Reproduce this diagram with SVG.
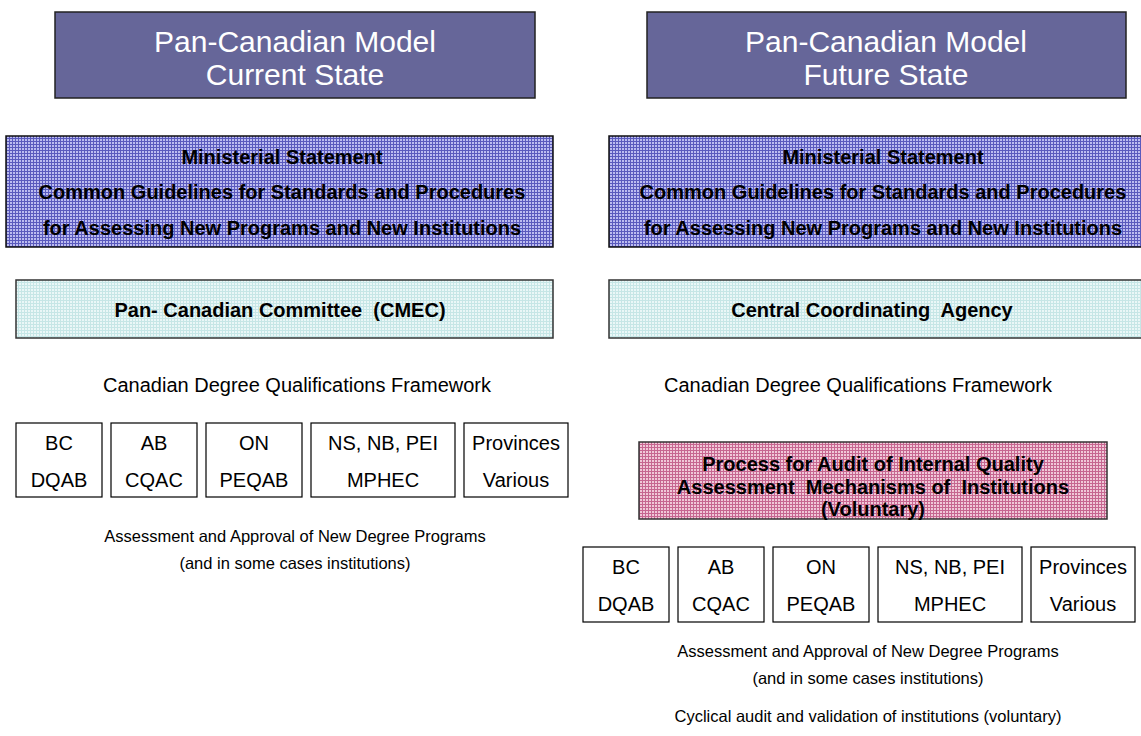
<svg xmlns="http://www.w3.org/2000/svg" width="1141" height="736" viewBox="0 0 1141 736">
<defs>
<pattern id="gridBlue" width="3" height="3" patternUnits="userSpaceOnUse">
<rect width="3" height="3" fill="#bcbcf0"/>
<rect width="3" height="1" fill="#5a5abd"/>
<rect width="1" height="3" fill="#5a5abd"/>
</pattern>
<pattern id="gridCyan" width="3" height="3" patternUnits="userSpaceOnUse">
<rect width="3" height="3" fill="#eaf7f7"/>
<rect width="3" height="1" fill="#c6e6e6"/>
<rect width="1" height="3" fill="#c6e6e6"/>
</pattern>
<pattern id="gridPink" width="3" height="3" patternUnits="userSpaceOnUse">
<rect width="3" height="3" fill="#f0c8d8"/>
<rect width="3" height="1" fill="#c66690"/>
<rect width="1" height="3" fill="#c66690"/>
</pattern>
</defs>
<style>
text{font-family:"Liberation Sans",Arial,sans-serif;text-anchor:middle;white-space:pre}
.title rect{fill:#666699;stroke:#222;stroke-width:1.5}
.title text{fill:#fff;font-size:30px}
.mini rect{fill:url(#gridBlue);stroke:#111;stroke-width:1.5}
.mini text{font-size:20px;font-weight:bold;fill:#000}
.comm rect{fill:url(#gridCyan);stroke:#333;stroke-width:1.5}
.comm text{font-size:20px;font-weight:bold;fill:#000}
.plain{font-size:20px;fill:#000}
.small{font-size:16.5px;fill:#000}
.prov rect{fill:#fff;stroke:#000;stroke-width:1.2}
.prov text{font-size:20px;fill:#000}
.audit rect{fill:url(#gridPink);stroke:#333;stroke-width:1.5}
.audit text{font-size:20px;font-weight:bold;fill:#000}
</style>

<g id="title-current" class="title">
<rect x="55" y="12" width="480" height="86"/>
<text x="295" y="52">Pan-Canadian Model</text>
<text x="295" y="85">Current State</text>
</g>
<g id="title-future" class="title">
<rect x="647" y="12" width="479" height="86"/>
<text x="886" y="52">Pan-Canadian Model</text>
<text x="886" y="85">Future State</text>
</g>

<g id="ministerial-current" class="mini">
<rect x="6" y="136" width="547" height="111"/>
<text x="282" y="164">Ministerial Statement</text>
<text x="282" y="199">Common Guidelines for Standards and Procedures</text>
<text x="282" y="235">for Assessing New Programs and New Institutions</text>
</g>
<g id="ministerial-future" class="mini">
<rect x="609" y="136" width="560" height="111"/>
<text x="883" y="164">Ministerial Statement</text>
<text x="883" y="199">Common Guidelines for Standards and Procedures</text>
<text x="883" y="235">for Assessing New Programs and New Institutions</text>
</g>

<g id="committee-current" class="comm">
<rect x="16" y="280" width="537" height="58"/>
<text x="280" y="317">Pan- Canadian Committee  (CMEC)</text>
</g>
<g id="agency-future" class="comm">
<rect x="609" y="280" width="560" height="58"/>
<text x="872" y="317">Central Coordinating  Agency</text>
</g>

<g id="cdqf-current">
<text class="plain" x="297" y="392">Canadian Degree Qualifications Framework</text>
</g>
<g id="cdqf-future">
<text class="plain" x="858" y="392">Canadian Degree Qualifications Framework</text>
</g>

<g id="prov-current-bc" class="prov"><rect x="16" y="423" width="86" height="74"/><text x="59" y="450">BC</text><text x="59" y="487">DQAB</text></g>
<g id="prov-current-ab" class="prov"><rect x="111" y="423" width="86" height="74"/><text x="154" y="450">AB</text><text x="154" y="487">CQAC</text></g>
<g id="prov-current-on" class="prov"><rect x="206" y="423" width="96" height="74"/><text x="254" y="450">ON</text><text x="254" y="487">PEQAB</text></g>
<g id="prov-current-ns" class="prov"><rect x="311" y="423" width="144" height="74"/><text x="383" y="450">NS, NB, PEI</text><text x="383" y="487">MPHEC</text></g>
<g id="prov-current-other" class="prov"><rect x="464" y="423" width="104" height="74"/><text x="516" y="450">Provinces</text><text x="516" y="487">Various</text></g>

<g id="assess-current">
<text class="small" x="295" y="542">Assessment and Approval of New Degree Programs</text>
<text class="small" x="295" y="569">(and in some cases institutions)</text>
</g>

<g id="audit-future" class="audit">
<rect x="639" y="442" width="468" height="77"/>
<text x="873" y="471">Process for Audit of Internal Quality</text>
<text x="873" y="494">Assessment  Mechanisms of  Institutions</text>
<text x="873" y="516">(Voluntary)</text>
</g>

<g id="prov-future-bc" class="prov"><rect x="583" y="547" width="86" height="75"/><text x="626" y="574">BC</text><text x="626" y="611">DQAB</text></g>
<g id="prov-future-ab" class="prov"><rect x="678" y="547" width="86" height="75"/><text x="721" y="574">AB</text><text x="721" y="611">CQAC</text></g>
<g id="prov-future-on" class="prov"><rect x="773" y="547" width="96" height="75"/><text x="821" y="574">ON</text><text x="821" y="611">PEQAB</text></g>
<g id="prov-future-ns" class="prov"><rect x="878" y="547" width="144" height="75"/><text x="950" y="574">NS, NB, PEI</text><text x="950" y="611">MPHEC</text></g>
<g id="prov-future-other" class="prov"><rect x="1031" y="547" width="104" height="75"/><text x="1083" y="574">Provinces</text><text x="1083" y="611">Various</text></g>

<g id="assess-future">
<text class="small" x="868" y="657">Assessment and Approval of New Degree Programs</text>
<text class="small" x="868" y="684">(and in some cases institutions)</text>
<text class="small" x="868" y="722">Cyclical audit and validation of institutions (voluntary)</text>
</g>
</svg>
